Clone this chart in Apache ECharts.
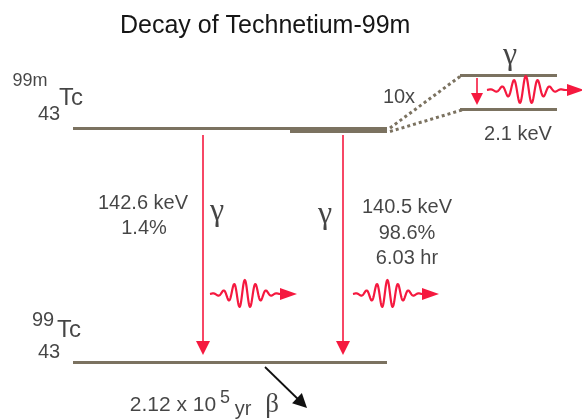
<!DOCTYPE html>
<html><head><meta charset="utf-8">
<script src="https://cdn.jsdelivr.net/npm/echarts@6/dist/echarts.min.js"></script>
<style>html,body{margin:0;padding:0;background:#fff}#c{width:582px;height:420px}</style>
</head><body><div id="c"></div>
<script>
// Diagram data (diagram coordinates: x across, y down)
const titleText = 'Decay of Technetium-99m';
const levelsThin = [[[73,128.5],[291,128.5]], [[73,362.5],[387,362.5]]];
const levelThick = [[[290,130],[387,130]]];
const insetLevels = [[[460,75.5],[557,75.5]], [[460,109.5],[557,109.5]]];
const zoomGuides = [[[390,128],[462,75]], [[390,131.5],[462,110]]];
const gammaArrows = [[[203,135],[203,348]], [[343,135],[343,348]]];
const insetArrow = [[[477,78],[477,99]]];
const betaArrow = [[[265,367],[302,403]]];
const photons = [[210,294,87], [353,294,86], [487,90,97]]; // start x, centre y, length
const textLabels = [[143,203,'142.6 keV'],[144,228,'1.4%'],[407,207,'140.5 keV'],[407,233,'98.6%'],[407,258,'6.03 hr'],[399,97,'10x'],[518,134,'2.1 keV'],[243,409,'yr']];
const bigTextLabels = [[173,405,'2.12 x 10']];
const massLabels = [[43,320,'99'],[49,114,'43'],[49,352,'43']];
const smallLabels = [[30,81,'99m'],[225,398,'5']];
const nuclideLabels = [[71,98,'Tc'],[69,330,'Tc']];
const greekLabels = [[217,212,'γ'],[325,215,'γ'],[510,56,'γ']];
const betaLabels = [[272,405,'β']];

const LEVEL = '#7b7260', RED = '#f5193f', INK = '#161616';
const chart = echarts.init(document.getElementById('c'), null, {renderer:'canvas'});
function lineSeries(segs, width, type, color){
  return {type:'lines', coordinateSystem:'cartesian2d', silent:true, symbol:'none',
    lineStyle:{color:color, width:width, type:type, opacity:1},
    data:segs.map(s=>({coords:s}))};
}
function arrowSeries(segs, color, width, size){
  return {type:'lines', coordinateSystem:'cartesian2d', silent:true,
    symbol:['none','triangle'], symbolSize:size,
    lineStyle:{color:color, width:width, opacity:1},
    data:segs.map(s=>({coords:s}))};
}
function textSeries(items, font, size){
  return {type:'scatter', symbolSize:0, silent:true,
    data:items.map(d=>({value:[d[0],d[1]], name:d[2]})),
    label:{show:true, position:'inside', formatter:p=>p.name, color:INK,
      fontFamily:font, fontSize:size}};
}
const photonSeries = {
  type:'custom', coordinateSystem:'cartesian2d', silent:true,
  data:photons,
  renderItem:function(params, api){
    const p0 = api.coord([api.value(0), api.value(1)]);
    const L = api.size([api.value(2),0])[0];
    const W = L*0.8, head = 17, hw = 6;
    const pts = [];
    for(let i=0;i<=200;i++){
      const t=i/200;
      const env = Math.exp(-Math.pow((t-0.5)/0.26,2));
      pts.push([p0[0]+t*W, p0[1]-14*env*Math.sin(2*Math.PI*6.5*t)]);
    }
    pts.push([p0[0]+L-head+2, p0[1]]);
    return {type:'group', children:[
      {type:'polyline', shape:{points:pts}, style:{stroke:RED, lineWidth:2.2, fill:null, lineJoin:'round'}},
      {type:'polygon', shape:{points:[[p0[0]+L-head,p0[1]-hw],[p0[0]+L,p0[1]],[p0[0]+L-head,p0[1]+hw]]}, style:{fill:RED}}
    ]};
  }
};
chart.setOption({
  animation:false,
  backgroundColor:'#fff',
  title:{text:titleText, left:115, top:9, textStyle:{fontFamily:'Liberation Sans', fontWeight:'normal', fontSize:25, color:INK}},
  grid:{left:0, right:0, top:0, bottom:0},
  xAxis:{type:'value', min:0, max:582, show:false},
  yAxis:{type:'value', min:0, max:420, inverse:true, show:false},
  series:[
    lineSeries(levelsThin, 3, 'solid', LEVEL),
    lineSeries(levelThick, 6, 'solid', LEVEL),
    lineSeries(insetLevels, 3, 'solid', LEVEL),
    lineSeries(zoomGuides, 3, [3,3], LEVEL),
    arrowSeries(gammaArrows, RED, 1.6, [8,14]),
    arrowSeries(insetArrow, RED, 1.6, [7,12]),
    arrowSeries(betaArrow, '#111', 1.8, [9,14]),
    photonSeries,
    textSeries(textLabels, 'Liberation Sans', 20),
    textSeries(bigTextLabels, 'Liberation Sans', 21),
    textSeries(massLabels, 'Liberation Sans', 20),
    textSeries(smallLabels, 'Liberation Sans', 18),
    textSeries(nuclideLabels, 'Liberation Sans', 24),
    textSeries(greekLabels, 'Liberation Serif', 32),
    textSeries(betaLabels, 'Liberation Serif', 27)
  ]
});
</script></body></html>
